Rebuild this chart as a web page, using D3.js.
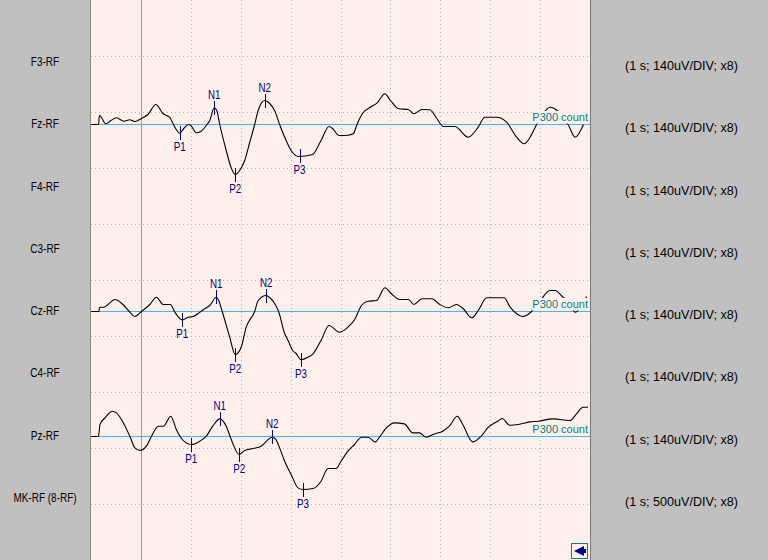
<!DOCTYPE html>
<html><head><meta charset="utf-8">
<script src="https://cdn.jsdelivr.net/npm/d3@7"></script>
<style>html,body{margin:0;padding:0;background:#c0c0c0;overflow:hidden}svg{display:block}</style>
</head><body><svg id="c" width="768" height="560"></svg>
<script>
// ---------- data ----------
const channels = ["F3-RF","Fz-RF","F4-RF","C3-RF","Cz-RF","C4-RF","Pz-RF","MK-RF (8-RF)"];
const scaleLabels = ["(1 s; 140uV/DIV; x8)","(1 s; 140uV/DIV; x8)","(1 s; 140uV/DIV; x8)","(1 s; 140uV/DIV; x8)",
  "(1 s; 140uV/DIV; x8)","(1 s; 140uV/DIV; x8)","(1 s; 140uV/DIV; x8)","(1 s; 500uV/DIV; x8)"];
const timeTicks = [100,200,300,400,500,600,700,800];
const ampGrid = [1,2,3,4,5,6,7,8,9];

const fzTime = [-100,-85,-83,-70,-60,-49,-34,-22,-12,1,14,30,44,58,68,78,86,95,100,111,120,131,138,147,152,158,171,180,189,198,208,218,228,235,248,258,268,278,291,301,316,344,361,377,384,397,415,426,433,444,462,473,489,500,517,536,547,563,579,593,606,629,656,676,689,713,733,753,768,780,793,806,820,834,844,856,870,887];
const fzAmp = [0,0,9,0.7,4,6.7,3.3,4.7,3,6,10,20,11,7,-2.7,-8.7,-4,0,-1,-8.3,-7,-1,4,16.7,14,0,-26,-42,-50,-46,-36,-18,0,14,24,21,14,0,-16,-26,-32,-30,-16,-2,-4,-11,-10.7,-9,0,11,18,21.3,30.7,24,15.7,15,10.7,15,14.7,6,-2,-2,-12.7,-2.7,7.3,7.3,2.3,-12.7,-19.3,-12.7,0,11,17.3,14,6,0,-12.7,0];

const czTime = [-100,-84,-83,-74,-66,-52,-36,-22,-12,1,18,31,45,59,68,83,95,105,118,128,138,151,156,163,178,189,201,211,228,235,251,258,268,276,288,295,304,311,321,335,345,361,377,398,415,428,442,455,472,489,502,519,536,547,563,583,599,616,632,646,663,676,693,728,740,753,765,783,796,820,830,846,860,870,880,893];
const czAmp = [0,0,4.3,4.3,7,12,7,-0.7,-5,0,7,14.3,7,7,-0.7,-8.3,-5.7,-5,-0.7,2.7,6,14.3,11,0,-25.7,-43,-35.7,-15.7,0,11,16,14,8,0,-22,-29,-39,-42,-48.3,-45.7,-42.3,-29,-14,-20.7,-15.7,-8.3,6,10.3,11,23.7,17.7,12,12,7,12.7,12.7,7,3.7,7,2.7,-6.3,1,13.7,13.7,4.3,-2.3,-5,0,7.7,21,21,14.3,8,-0.7,3,15];

const pzTime = [-100,-85,-82,-72,-57,-49,-35,-22,-12,-2,11,21,35,45,60,71,83,101,118,131,144,158,171,181,197,208,225,241,263,270,278,288,301,315,325,345,361,375,391,401,415,428,442,455,470,478,492,508,528,545,558,572,588,605,618,634,645,665,682,695,715,724,739,756,779,796,826,860,873,886,896];
const pzAmp = [0,0,12,18.6,25.3,23.6,13.6,0,-11.4,-14,-9.7,0,10.3,10.3,20.3,7,-3,-8,-4.7,0.3,10.3,17.6,10.3,-3,-18,-14,-12,-9.7,-0.7,-2.7,-11.4,-24.7,-38,-51.4,-53,-52,-44.7,-32,-32,-24.7,-14.7,-8,-0.7,-0.7,-5.4,-0.7,8.6,13.6,12.6,3.6,3.6,-0.7,2.6,5.3,10.3,20.3,12,-5.4,0.3,8.6,15.3,18,11.3,12,14.6,15.3,17.6,16,22.6,29.3,29.3];

const markerNames = ["P1","N1","P2","N2","P3"];
const fzMarkTime = [78,147,189,248,318];
const fzMarkAmp = [-8.7,16.7,-50,24,-31];
const czMarkTime = [83,151,189,251,321];
const czMarkAmp = [-8.3,14.3,-43,16,-48.3];
const pzMarkTime = [101,158,197,263,325];
const pzMarkAmp = [-8,17.6,-18,-0.7,-53];

const countLabel = "P300 count";

// ---------- drawing ----------
const W = 768, H = 560, L = 91, R = 590;
const FONT = "'Liberation Sans',Arial,sans-serif";
const svg = d3.select("#c");
const x = d3.scaleLinear().domain([-100, 900]).range([L, R]);
const rowY = d3.scaleLinear().domain([0, channels.length + 1]).range([0, H]); // channel centres
const gridY = d3.scaleLinear().domain([0, 10]).range([0, H]);

svg.append("rect").attr("width", W).attr("height", H).attr("fill", "#c0c0c0");
svg.append("rect").attr("x", L).attr("y", 0).attr("width", R - L).attr("height", H).attr("fill", "#fff0eb");

svg.append("defs").append("clipPath").attr("id", "plot")
  .append("rect").attr("x", L).attr("y", 0).attr("width", R - L).attr("height", H);

const grid = svg.append("g").attr("shape-rendering", "crispEdges");
grid.selectAll("line.h").data(ampGrid).join("line")
  .attr("x1", L).attr("x2", R)
  .attr("y1", d => Math.round(gridY(d)) + 0.5).attr("y2", d => Math.round(gridY(d)) + 0.5)
  .attr("stroke", "#b8b2b0").attr("stroke-dasharray", "1,3");
grid.selectAll("line.v").data(timeTicks).join("line")
  .attr("x1", d => Math.round(x(d)) + 0.5).attr("x2", d => Math.round(x(d)) + 0.5)
  .attr("y1", 0).attr("y2", H)
  .attr("stroke", "#b8b2b0").attr("stroke-dasharray", "1,3");

// stimulus line
grid.append("line").attr("x1", Math.round(x(0)) + 0.5).attr("x2", Math.round(x(0)) + 0.5)
  .attr("y1", 0).attr("y2", H).attr("stroke", "#4db3f0");

// borders
grid.append("line").attr("x1", L - 0.5).attr("x2", L - 0.5).attr("y1", 0).attr("y2", H).attr("stroke", "#8c8c8c");
grid.append("line").attr("x1", R + 0.5).attr("x2", R + 0.5).attr("y1", 0).attr("y2", H).attr("stroke", "#7a7a7a");

// left labels (narrow system font look)
svg.append("g").selectAll("text").data(channels).join("text")
  .attr("transform", (d, i) => `translate(45,${rowY(i + 1) + 4}) scale(0.8,1)`)
  .attr("text-anchor", "middle")
  .attr("font-family", FONT)
  .attr("font-size", 12.5).attr("fill", "#000").text(d => d);

// right labels
svg.append("g").selectAll("text").data(scaleLabels).join("text")
  .attr("x", 681.5).attr("y", (d, i) => rowY(i + 1) + 8)
  .attr("text-anchor", "middle")
  .attr("font-family", FONT)
  .attr("font-size", 12.6).attr("fill", "#000").text(d => d);

const traces = [
  {row: 1, t: fzTime, a: fzAmp, mt: fzMarkTime, ma: fzMarkAmp},
  {row: 4, t: czTime, a: czAmp, mt: czMarkTime, ma: czMarkAmp},
  {row: 6, t: pzTime, a: pzAmp, mt: pzMarkTime, ma: pzMarkAmp}
];

const plot = svg.append("g").attr("clip-path", "url(#plot)");

traces.forEach(tr => {
  const yc = rowY(tr.row + 1);
  const base = Math.round(yc) + 0.5;
  const y = d3.scaleLinear().domain([-28, 28]).range([base + 28, base - 28]);
  const g = plot.append("g");
  // baseline
  g.append("line").attr("x1", L).attr("x2", R).attr("y1", base).attr("y2", base)
    .attr("stroke", "#4db3f0").attr("shape-rendering", "crispEdges");
  // trace
  const pts = tr.t.map((t, i) => [t, tr.a[i]]);
  g.append("path").datum(pts)
    .attr("d", d3.line().x(d => x(d[0])).y(d => y(d[1])).curve(d3.curveMonotoneX))
    .attr("fill", "none").attr("stroke", "#000").attr("stroke-width", 1.1);
  // P300 count label with background
  g.append("rect").attr("x", 532).attr("y", base - 13.5).attr("width", R - 532).attr("height", 12.5)
    .attr("fill", "#fff0eb");
  g.append("text").attr("x", 588).attr("y", base - 3.5).attr("text-anchor", "end")
    .attr("font-family", FONT).attr("font-size", 11)
    .attr("fill", "#008080").text(countLabel);
  // markers
  const marks = markerNames.map((n, i) => ({n, t: tr.mt[i], a: tr.ma[i]}));
  const mg = g.selectAll("g.m").data(marks).join("g");
  mg.append("line")
    .attr("x1", d => Math.round(x(d.t)) + 0.5).attr("x2", d => Math.round(x(d.t)) + 0.5)
    .attr("y1", d => y(d.a) - 7).attr("y2", d => y(d.a) + 7)
    .attr("stroke", "#000080").attr("shape-rendering", "crispEdges");
  mg.append("text")
    .attr("transform", d => `translate(${x(d.t)},${d.n[0] === "N" ? y(d.a) - 9 : y(d.a) + 18}) scale(0.8,1)`)
    .attr("text-anchor", "middle")
    .attr("font-family", FONT)
    .attr("font-size", 12.2).attr("fill", "#000080").text(d => d.n);
});

// scroll button
const b = svg.append("g");
b.append("rect").attr("x", 571.5).attr("y", 543.5).attr("width", 16).attr("height", 15)
  .attr("fill", "#fff0eb").attr("stroke", "#0f7f7a").attr("shape-rendering", "crispEdges");
b.append("path").attr("d", "M574,551 L584,546 L584,556 Z M584,549 L586,549 L586,553 L584,553 Z").attr("fill", "#000080");
</script>
</body></html>
